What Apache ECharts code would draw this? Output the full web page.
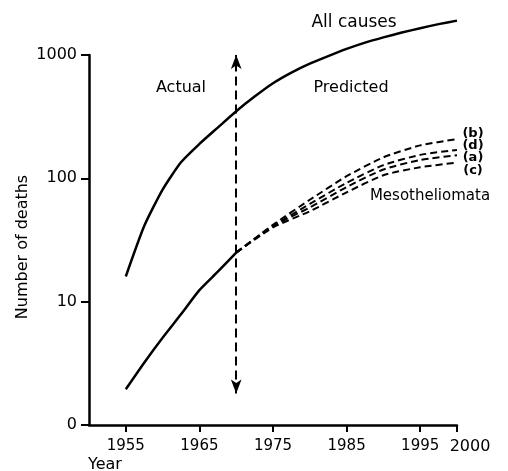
<!DOCTYPE html>
<html>
<head>
<meta charset="utf-8">
<script src="https://cdn.jsdelivr.net/npm/echarts@6/dist/echarts.min.js"></script>
<style>
  html, body { margin: 0; padding: 0; background: #fff; }
  #chart { width: 508px; height: 471px; }
</style>
</head>
<body>
<div id="chart"></div>
<script>
const allYears = [1955, 1957.5, 1960, 1962.5, 1965, 1967.5, 1970, 1972.5, 1975, 1977.5, 1980,
  1982.5, 1985, 1987.5, 1990, 1992.5, 1995, 1997.5, 2000]
const allCauses = [16, 41, 81, 135, 190, 258, 350, 460, 590, 720, 850,
  980, 1120, 1260, 1390, 1520, 1650, 1780, 1900]

const mesoYears = [1955, 1957.5, 1960, 1962.5, 1965, 1967.5, 1970]
const mesoActual = [1.95, 3.2, 5.1, 7.9, 12.4, 17.5, 25]

const predYears = [1970, 1975, 1980, 1985, 1990, 1995, 2000]
const predB = [25, 42, 67, 104, 148, 185, 208]
const predD = [25, 41, 62, 92, 128, 155, 170]
const predA = [25, 41, 58, 85, 118, 141, 154]
const predC = [25, 40, 54, 77, 106, 123, 134]

const xTicks = [1955, 1965, 1975, 1985, 1995, 2000]
const arrowYear = 1970
const arrowRange = [1.8, 1000]

const font = 'DejaVu Sans'
const pair = (xs, ys) => xs.map((x, i) => [x, ys[i]])

const charts = echarts.init(document.getElementById('chart'))

const dashed = (name, ys) => ({
  name,
  type: 'line',
  data: pair(predYears, ys),
  smooth: 0.2,
  symbol: 'none',
  clip: false,
  lineStyle: { color: '#000', width: 2, type: [7, 4] },
})

const txt = (text, x, y, extra) => ({
  type: 'text',
  x,
  y,
  style: Object.assign({ text, font: '16px ' + font, fill: '#000', align: 'center', verticalAlign: 'middle' }, extra),
})

charts.setOption({
  backgroundColor: '#fff',
  animation: false,
  grid: { left: 89, right: 51, top: 55, bottom: 46 },
  xAxis: {
    type: 'value',
    min: 1950,
    max: 2000,
    axisLine: { lineStyle: { color: '#000', width: 2.5 } },
    axisTick: { customValues: xTicks, length: 7, lineStyle: { color: '#000', width: 2 } },
    axisLabel: {
      customValues: xTicks,
      margin: 14,
      hideOverlap: false,
      showMaxLabel: true,
      color: '#000',
      fontSize: 15,
      fontFamily: font,
      formatter: (v) => (v === 2000 ? '{end|2000}' : String(v)),
      rich: { end: { fontSize: 16, fontFamily: font, color: '#000', padding: [0, 0, 0, 26] } },
    },
    splitLine: { show: false },
  },
  yAxis: {
    type: 'log',
    logBase: 10,
    min: 1,
    max: 1000,
    axisLine: { show: true, lineStyle: { color: '#000', width: 2.5 } },
    axisTick: { show: true, length: 8, lineStyle: { color: '#000', width: 2 } },
    axisLabel: {
      margin: 12,
      color: '#000',
      fontSize: 16,
      fontFamily: font,
      formatter: (v) => (v === 1 ? '0' : String(v)),
    },
    minorTick: { show: false },
    splitLine: { show: false },
  },
  series: [
    {
      name: 'All causes',
      type: 'line',
      data: pair(allYears, allCauses),
      smooth: 0.2,
      symbol: 'none',
      clip: false,
      lineStyle: { color: '#000', width: 2.5 },
    },
    {
      name: 'Mesotheliomata',
      type: 'line',
      data: pair(mesoYears, mesoActual),
      smooth: 0.2,
      symbol: 'none',
      lineStyle: { color: '#000', width: 2.5 },
      markLine: {
        silent: true,
        symbol: ['arrow', 'arrow'],
        symbolSize: [8, 14],
        label: { show: false },
        lineStyle: { color: '#000', width: 2, type: [9, 5] },
        data: [[{ coord: [arrowYear, arrowRange[0]] }, { coord: [arrowYear, arrowRange[1]] }]],
      },
    },
    dashed('b', predB),
    dashed('d', predD),
    dashed('a', predA),
    dashed('c', predC),
  ],
  graphic: [
    txt('All causes', 354, 23, { font: '17px ' + font }),
    txt('Actual', 181, 88),
    txt('Predicted', 351, 88),
    txt('Mesotheliomata', 430, 196, { font: '15px ' + font }),
    txt('(b)', 473, 134, { font: 'bold 13px ' + font }),
    txt('(d)', 473, 146, { font: 'bold 13px ' + font }),
    txt('(a)', 473, 158, { font: 'bold 13px ' + font }),
    txt('(c)', 473, 171, { font: 'bold 13px ' + font }),
    Object.assign(txt('Number of deaths', 23, 247), { rotation: Math.PI / 2 }),
    txt('Year', 88, 465, { align: 'left' }),
  ],
})
</script>
</body>
</html>
